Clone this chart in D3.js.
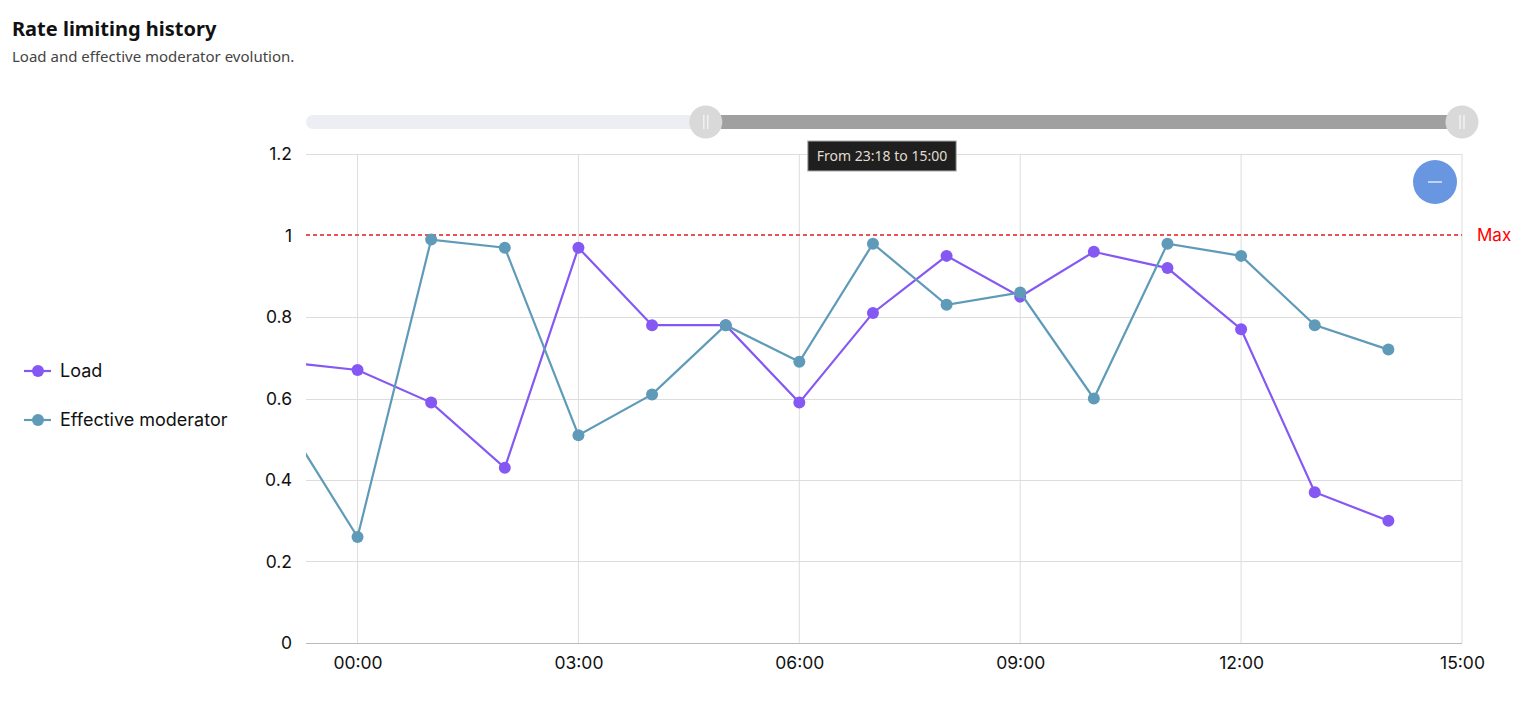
<!DOCTYPE html>
<html>
<head>
<meta charset="utf-8">
<script src="https://cdn.jsdelivr.net/npm/d3@7"></script>
<style>
  body { margin: 0; background: #fff; font-family: Inter, "Noto Sans", sans-serif; }
  svg { display: block; }
</style>
</head>
<body>
<svg id="chart" width="1531" height="711"></svg>
<script>
// hours of the samples (-1 = 23:00 previous day)
const hours = [-1, 0, 1, 2, 3, 4, 5, 6, 7, 8, 9, 10, 11, 12, 13, 14];
const loadValues = [0.69, 0.67, 0.59, 0.43, 0.97, 0.78, 0.78, 0.59, 0.81, 0.95, 0.85, 0.96, 0.92, 0.77, 0.37, 0.30];
const moderatorValues = [0.55, 0.26, 0.99, 0.97, 0.51, 0.61, 0.78, 0.69, 0.98, 0.83, 0.86, 0.60, 0.98, 0.95, 0.78, 0.72];
const yTicks = [0, 0.2, 0.4, 0.6, 0.8, 1, 1.2];
const maxValue = 1;

const day = new Date(2024, 0, 2);
const at = (h, m = 0) => new Date(day.getTime() + (h * 60 + m) * 60000);

const series = [
  { name: "Load", color: "#8558f4", values: loadValues },
  { name: "Effective moderator", color: "#5f9bb9", values: moderatorValues }
];

const viewStart = at(-1, 18);   // 23:18
const viewEnd = at(15);         // 15:00
const fullStart = at(-9);       // whole history: 15:00 the day before
const fmt = d3.timeFormat("%H:%M");

const svg = d3.select("#chart");
const margin = { top: 154, right: 69, bottom: 68, left: 306 };
const W = 1531, H = 711;
const innerW = W - margin.left - margin.right;
const innerH = H - margin.top - margin.bottom;

// titles
svg.append("text")
  .attr("x", 12).attr("y", 36)
  .style("font-family", "'Noto Sans', sans-serif")
  .style("font-size", "20px").style("font-weight", "bold")
  .attr("fill", "#111")
  .text("Rate limiting history");
svg.append("text")
  .attr("x", 12).attr("y", 62)
  .style("font-family", "'Noto Sans', sans-serif")
  .style("font-size", "15px")
  .attr("fill", "#444")
  .text("Load and effective moderator evolution.");

const g = svg.append("g").attr("transform", `translate(${margin.left},${margin.top})`);

const x = d3.scaleTime().domain([viewStart, viewEnd]).range([0, innerW]);
const y = d3.scaleLinear().domain([0, 1.2]).range([innerH, 0]);

// grid (the Max line replaces the 1.0 grid line)
g.append("g")
  .selectAll("line.h")
  .data(yTicks.filter(d => d !== maxValue))
  .join("line")
  .attr("x1", 0).attr("x2", innerW)
  .attr("y1", d => Math.round(y(d)) + 0.5).attr("y2", d => Math.round(y(d)) + 0.5)
  .attr("stroke", d => d === 0 ? "#bbb" : "#ddd");

const xTicks = x.ticks(d3.timeHour.every(3));
g.append("g")
  .selectAll("line.v")
  .data(xTicks)
  .join("line")
  .attr("x1", d => x(d)).attr("x2", d => x(d))
  .attr("y1", 0).attr("y2", innerH)
  .attr("stroke", "#ddd");

// axes
const yAxis = g.append("g").call(d3.axisLeft(y).tickValues(yTicks).tickSize(0).tickPadding(14).tickFormat(d3.format("~g")));
yAxis.select(".domain").remove();
yAxis.selectAll("text").style("font-size", "17.5px").style("font-family", "Inter, sans-serif").attr("fill", "#111");

const xAxis = g.append("g")
  .attr("transform", `translate(0,${innerH})`)
  .call(d3.axisBottom(x).tickValues(xTicks).tickSize(0).tickPadding(14).tickFormat(fmt));
xAxis.select(".domain").remove();
xAxis.selectAll("text").style("font-size", "17.5px").style("font-family", "Inter, sans-serif").attr("fill", "#111");

// max line
g.append("line")
  .attr("x1", 0).attr("x2", innerW)
  .attr("y1", Math.round(y(maxValue))).attr("y2", Math.round(y(maxValue)))
  .style("stroke", "#ec5252").style("stroke-width", "2px").style("stroke-dasharray", "4 3");
g.append("text")
  .attr("x", innerW + 15).attr("y", y(maxValue))
  .attr("dy", "0.35em")
  .style("font-size", "17px")
  .attr("fill", "#ff0000")
  .text("Max");

// lines
g.append("clipPath").attr("id", "clip")
  .append("rect").attr("width", innerW).attr("height", innerH + 10).attr("y", -10);

const plot = g.append("g").attr("clip-path", "url(#clip)");
const line = d3.line().x((d, i) => x(at(hours[i]))).y(d => y(d));

series.forEach(s => {
  plot.append("path")
    .datum(s.values)
    .attr("fill", "none")
    .attr("stroke", s.color)
    .attr("stroke-width", 2.2)
    .attr("d", line);
  plot.selectAll(null)
    .data(s.values)
    .join("circle")
    .attr("cx", (d, i) => x(at(hours[i])))
    .attr("cy", d => y(d))
    .attr("r", 6)
    .attr("fill", s.color);
});

// legend
const legend = svg.append("g").attr("transform", "translate(24,371)");
series.forEach((s, i) => {
  const lg = legend.append("g").attr("transform", `translate(0,${i * 49})`);
  lg.append("line").attr("x1", 0).attr("x2", 27).attr("stroke", s.color).attr("stroke-width", 2.2);
  lg.append("circle").attr("cx", 14).attr("r", 6).attr("fill", s.color);
  lg.append("text").attr("x", 36).attr("dy", "0.35em")
    .style("font-size", "18px").attr("fill", "#111").text(s.name);
});

// range slider
const sx = d3.scaleTime().domain([fullStart, viewEnd]).range([margin.left, margin.left + innerW]);
const slider = svg.append("g").attr("transform", "translate(0,122)");
slider.append("rect")
  .attr("x", sx(fullStart)).attr("y", -7)
  .attr("width", sx(viewEnd) - sx(fullStart) + 16).attr("height", 14)
  .attr("rx", 7).attr("fill", "#eceef3");
slider.append("rect")
  .attr("x", sx(viewStart)).attr("y", -7)
  .attr("width", sx(viewEnd) - sx(viewStart)).attr("height", 14)
  .attr("fill", "#a0a0a0");
[viewStart, viewEnd].forEach(t => {
  const h = slider.append("g").attr("transform", `translate(${sx(t)},0)`);
  h.append("circle").attr("r", 16.5).attr("fill", "#d9d9d9");
  h.append("line").attr("x1", -2).attr("x2", -2).attr("y1", -7).attr("y2", 7).attr("stroke", "#f2f2f2").attr("stroke-width", 1.5);
  h.append("line").attr("x1", 2).attr("x2", 2).attr("y1", -7).attr("y2", 7).attr("stroke", "#f2f2f2").attr("stroke-width", 1.5);
});

// tooltip
const tip = svg.append("g").attr("transform", "translate(882,156)");
const tipText = tip.append("text")
  .attr("text-anchor", "middle").attr("dy", "0.35em")
  .style("font-family", "'Noto Sans', sans-serif")
  .style("font-size", "14px").attr("fill", "#e0dccf")
  .text(`From ${fmt(viewStart)} to ${fmt(viewEnd)}`);
const bb = tipText.node().getBBox();
tip.insert("rect", "text")
  .attr("x", -bb.width / 2 - 9).attr("y", -15)
  .attr("width", bb.width + 18).attr("height", 30)
  .attr("fill", "#1f1f1f").attr("stroke", "#aaa");

// zoom-out button
const btn = svg.append("g").attr("transform", "translate(1435,182)");
btn.append("circle").attr("r", 22).attr("fill", "#6996e0");
btn.append("line").attr("x1", -7).attr("x2", 7).attr("stroke", "#dfe8f8").attr("stroke-width", 1.5);
</script>
</body>
</html>
